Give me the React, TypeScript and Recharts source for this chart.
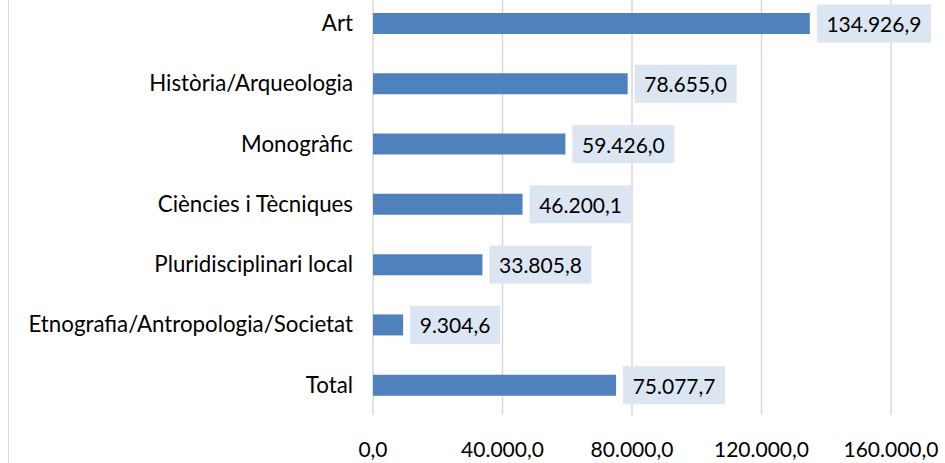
import { BarChart, Bar, XAxis, YAxis, CartesianGrid, LabelList } from "recharts";

const categories = [
  "Art",
  "Història/Arqueologia",
  "Monogràfic",
  "Ciències i Tècniques",
  "Pluridisciplinari local",
  "Etnografia/Antropologia/Societat",
  "Total",
];
const values = [134926.9, 78655.0, 59426.0, 46200.1, 33805.8, 9304.6, 75077.7];
const xTicks = [0, 40000, 80000, 120000, 160000];

const data = categories.map((name, i) => ({ name, value: values[i] }));

const FONT = "Lato, 'Open Sans', sans-serif";
const FS = 21;
const CAT_FS = 22.3;

// 1 decimal, "." thousands, "," decimals
function fmt(v: number) {
  const [int, dec] = v.toFixed(1).split(".");
  return int.replace(/\B(?=(\d{3})+(?!\d))/g, ".") + "," + dec;
}

function textWidth(s: string) {
  let w = 0;
  for (const ch of s) w += ch === "." || ch === "," ? 0.26 * FS : 0.58 * FS;
  return w;
}

function ValueLabel(props: any) {
  const { x, y, width, height, value } = props;
  const label = fmt(Number(value));
  const boxW = textWidth(label) + 18;
  const bx = x + width + 7;
  const cy = y + height / 2;
  return (
    <g>
      <rect x={bx} y={cy - 19} width={boxW} height={38} fill="#DCE6F2" />
      <text
        x={bx + boxW / 2}
        y={cy}
        textAnchor="middle"
        dominantBaseline="central"
        fontFamily={FONT}
        fontSize={FS}
        fill="#000"
      >
        {label}
      </text>
    </g>
  );
}

export default function App() {
  return (
    <div style={{ position: "absolute", left: 0, top: 0, width: 945, height: 463, overflow: "hidden", background: "#fff" }}>
      <div style={{ position: "absolute", left: 8, top: 0, width: 1, height: 463, background: "#D9D9D9" }} />
      <div style={{ position: "absolute", left: 0, top: -20 }}>
        <BarChart
          width={945}
          height={485}
          data={data}
          layout="vertical"
          margin={{ top: 13, right: 54, left: 10, bottom: 10 }}
        >
          <CartesianGrid horizontal={false} stroke="#D9D9D9" strokeWidth={1.5} />
          <XAxis
            type="number"
            domain={[0, 160000]}
            ticks={xTicks}
            tickFormatter={fmt}
            axisLine={false}
            tickLine={false}
            tickMargin={21}
            height={40}
            interval={0}
            tick={{ fontFamily: FONT, fontSize: FS, fill: "#000" }}
          />
          <YAxis
            type="category"
            dataKey="name"
            width={363}
            axisLine={false}
            tickLine={false}
            tickMargin={14}
            interval={0}
            tick={{ fontFamily: FONT, fontSize: CAT_FS, fill: "#000" }}
          />
          <Bar dataKey="value" fill="#4F81BD" barSize={21} isAnimationActive={false}>
            <LabelList dataKey="value" content={ValueLabel} />
          </Bar>
        </BarChart>
      </div>
    </div>
  );
}
